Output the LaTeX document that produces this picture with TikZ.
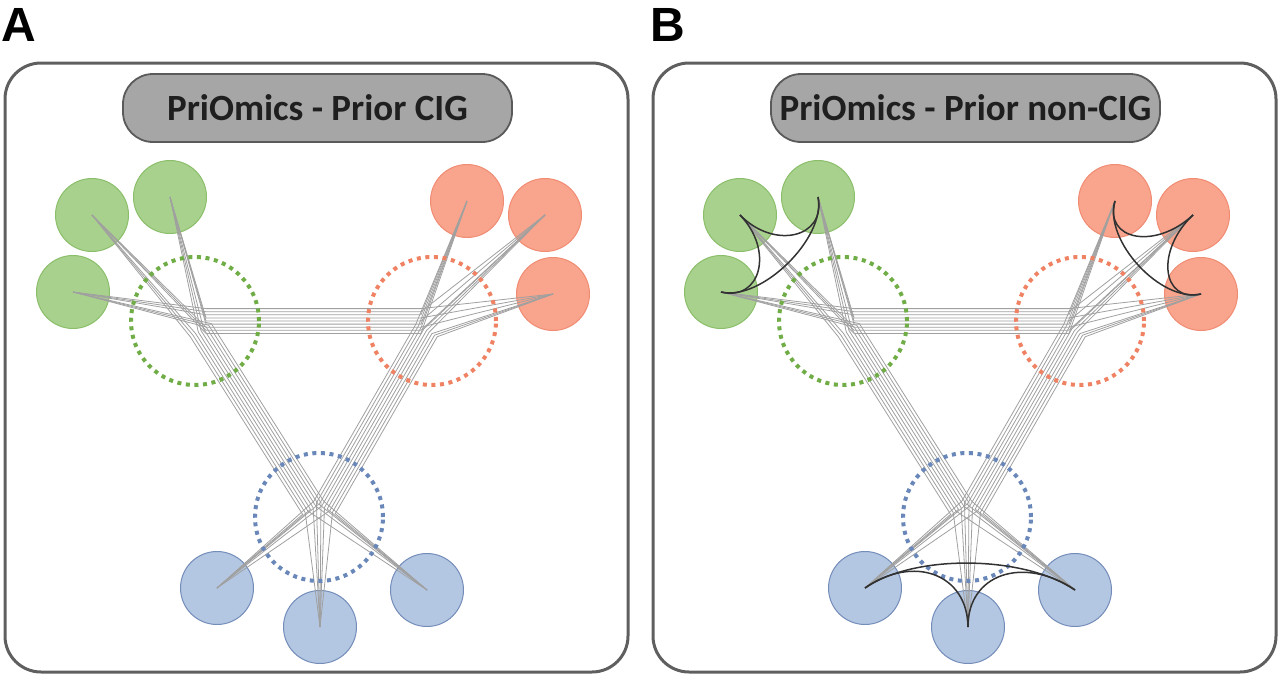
\documentclass[tikz,border=0pt]{standalone}
\usepackage{fontspec}
\newfontfamily\titlefont{Carlito}
\newfontfamily\labelfont{Liberation Sans}
\usetikzlibrary{calc}
\definecolor{gfill}{RGB}{169,209,142}
\definecolor{gline}{RGB}{138,190,105}
\definecolor{ghub}{RGB}{112,173,71}
\definecolor{rfill}{RGB}{249,164,140}
\definecolor{rline}{RGB}{240,140,115}
\definecolor{rhub}{RGB}{240,130,100}
\definecolor{bfill}{RGB}{180,199,226}
\definecolor{bline}{RGB}{115,140,185}
\definecolor{bhub}{RGB}{105,135,185}
\definecolor{framegray}{RGB}{95,95,95}
\definecolor{pillfill}{RGB}{166,166,166}
\definecolor{pillline}{RGB}{90,90,90}
\definecolor{edgegray}{RGB}{160,160,160}
\definecolor{cigdark}{RGB}{50,50,50}
\tikzset{
  panelbox/.style={rectangle, draw=framegray, line width=3pt, rounded corners=36pt,
    minimum width=623pt, minimum height=609pt, inner sep=0pt},
  pill/.style={rectangle, draw=pillline, line width=1.8pt, fill=pillfill, rounded corners=30pt,
    minimum width=389pt, minimum height=68pt, inner sep=0pt,
    font=\titlefont\bfseries\fontsize{37}{40}\selectfont, text=black!88},
  omic/.style={circle, minimum size=73pt, inner sep=0pt, line width=1pt},
  gnode/.style={omic, fill=gfill, draw=gline},
  rnode/.style={omic, fill=rfill, draw=rline},
  bnode/.style={omic, fill=bfill, draw=bline},
  hub/.style={circle, minimum size=128pt, inner sep=0pt, line width=4pt, dash pattern=on 4pt off 4.6pt},
  edge/.style={draw=edgegray, line width=0.8pt},
  cig/.style={draw=cigdark, line width=1.5pt},
  panellabel/.style={font=\labelfont\bfseries\fontsize{48}{50}\selectfont, inner sep=0pt}
}
\begin{document}
\begin{tikzpicture}[x=1pt, y=-1pt]
\useasboundingbox (0,0) rectangle (1280,680);
\node[panellabel] (labA) at (19,25) {A};
\node[panellabel] (labB) at (668,25) {B};
\foreach \p/\dx/\ttl in {a/0/{PriOmics - Prior CIG}, b/648/{PriOmics - Prior non-CIG}} {
  \begin{scope}[xshift=\dx pt]
    \node[panelbox] (\p box) at (316.5,367.5) {};
    \node[pill] (\p title) at (317.5,108) {\ttl};
    \coordinate (\p HG) at (195,321);
    \coordinate (\p HR) at (432,321);
    \coordinate (\p HB) at (319,517);
    \node[gnode] (\p G1) at (92,215) {};
    \node[gnode] (\p G2) at (170,197) {};
    \node[gnode] (\p G3) at (73,292) {};
    \node[rnode] (\p R1) at (467,201) {};
    \node[rnode] (\p R2) at (545,215) {};
    \node[rnode] (\p R3) at (553,294) {};
    \node[bnode] (\p B1) at (217,588) {};
    \node[bnode] (\p B2) at (320,627) {};
    \node[bnode] (\p B3) at (427,590) {};
    \coordinate (\p PGR) at ($(\p HG)!11pt!(\p HR)$);
    \coordinate (\p PRG) at ($(\p HR)!11pt!(\p HG)$);
    \coordinate (\p PGB) at ($(\p HG)!11pt!(\p HB)$);
    \coordinate (\p PBG) at ($(\p HB)!11pt!(\p HG)$);
    \coordinate (\p PRB) at ($(\p HR)!11pt!(\p HB)$);
    \coordinate (\p PBR) at ($(\p HB)!11pt!(\p HR)$);
    \foreach \X/\Y in {G/R,G/B,R/B} {
      \foreach \i in {1,2,3} {
        \foreach \j in {1,2,3} {
          \pgfmathsetmacro\k{(3*\i+\j-8)*3.1}
          \draw[edge] (\p\X\i.center) -- ($(\p P\X\Y)!\k pt!90:(\p H\Y)$)
            -- ($(\p P\Y\X)!\k pt!-90:(\p H\X)$) -- (\p\Y\j.center);
        }
      }
    }
    \node[hub, draw=ghub] (\p hubG) at (\p HG) {};
    \node[hub, draw=rhub] (\p hubR) at (\p HR) {};
    \node[hub, draw=bhub] (\p hubB) at (\p HB) {};
  \end{scope}
}
\foreach \c/\t in {G/0.33, R/0.33, B/0.48} {
  \draw[cig] (b\c1.center) .. controls ($(b\c1.center)!\t!(bH\c)$) and ($(b\c2.center)!\t!(bH\c)$) .. (b\c2.center);
  \draw[cig] (b\c2.center) .. controls ($(b\c2.center)!\t!(bH\c)$) and ($(b\c3.center)!\t!(bH\c)$) .. (b\c3.center);
  \draw[cig] (b\c1.center) .. controls ($(b\c1.center)!\t!(bH\c)$) and ($(b\c3.center)!\t!(bH\c)$) .. (b\c3.center);
}
\end{tikzpicture}
\end{document}
